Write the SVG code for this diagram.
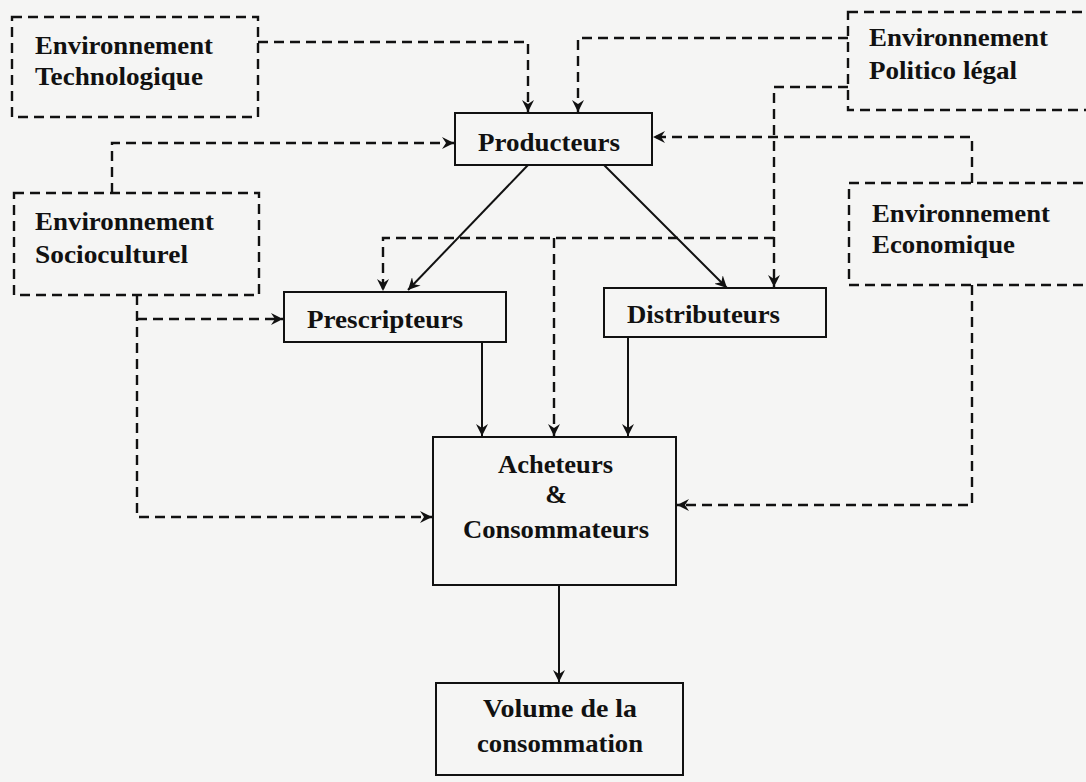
<svg xmlns="http://www.w3.org/2000/svg" width="1086" height="782" viewBox="0 0 1086 782">
<style>
.bg{fill:#f5f5f4}
.box{fill:none;stroke:#111;stroke-width:2}
.dbox{fill:none;stroke:#111;stroke-width:2.4;stroke-dasharray:10 6}
.dl{fill:none;stroke:#111;stroke-width:2.4;stroke-dasharray:10 6}
.sl{fill:none;stroke:#111;stroke-width:2}
.c{text-anchor:middle}
</style>
<defs>
<marker id="ah" viewBox="0 0 12 12" refX="12" refY="6" markerWidth="12" markerHeight="12" markerUnits="userSpaceOnUse" orient="auto">
<path d="M0,0 L12,6 L0,12 L4,6 z" fill="#111"/>
</marker>
</defs>
<rect class="bg" x="0" y="0" width="1086" height="782"/>

<g id="connectors">
<path class="dl" d="M258,42 H528 V112" marker-end="url(#ah)"/>
<path class="dl" d="M848,38 H578 V112" marker-end="url(#ah)"/>
<path class="dl" d="M848,87 H774 V287" marker-end="url(#ah)"/>
<path class="dl" d="M774,238 H383 V291" marker-end="url(#ah)"/>
<path class="dl" d="M554,238 V436" marker-end="url(#ah)"/>
<path class="dl" d="M112,193 V143 H454" marker-end="url(#ah)"/>
<path class="dl" d="M137,295 V517 H432" marker-end="url(#ah)"/>
<path class="dl" d="M137,319 H283" marker-end="url(#ah)"/>
<path class="dl" d="M972,183 V137 H653" marker-end="url(#ah)"/>
<path class="dl" d="M972,285 V505 H677" marker-end="url(#ah)"/>
<path class="sl" d="M528,165 L408,290" marker-end="url(#ah)"/>
<path class="sl" d="M604,165 L727,288" marker-end="url(#ah)"/>
<path class="sl" d="M482,342 V436" marker-end="url(#ah)"/>
<path class="sl" d="M628,337 V436" marker-end="url(#ah)"/>
<path class="sl" d="M559,585 V682" marker-end="url(#ah)"/>
</g>

<g font-family="Liberation Serif, Times New Roman, serif" font-weight="bold" font-size="26" fill="#111">
<g id="env-technologique">
<rect class="dbox" x="12" y="17" width="246" height="100"/>
<text x="35" y="54" textLength="178" lengthAdjust="spacingAndGlyphs">Environnement</text>
<text x="35" y="85" textLength="168" lengthAdjust="spacingAndGlyphs">Technologique</text>
</g>

<g id="env-politico-legal">
<rect class="dbox" x="848" y="12" width="250" height="98"/>
<text x="869" y="46" textLength="179" lengthAdjust="spacingAndGlyphs">Environnement</text>
<text x="869" y="79" textLength="148" lengthAdjust="spacingAndGlyphs">Politico légal</text>
</g>

<g id="env-socioculturel">
<rect class="dbox" x="14" y="193" width="245" height="102"/>
<text x="35" y="230" textLength="179" lengthAdjust="spacingAndGlyphs">Environnement</text>
<text x="35" y="263" textLength="153" lengthAdjust="spacingAndGlyphs">Socioculturel</text>
</g>

<g id="env-economique">
<rect class="dbox" x="849" y="183" width="250" height="102"/>
<text x="872" y="222" textLength="178" lengthAdjust="spacingAndGlyphs">Environnement</text>
<text x="872" y="253" textLength="143" lengthAdjust="spacingAndGlyphs">Economique</text>
</g>

<g id="producteurs">
<rect class="box" x="455" y="113" width="197" height="52"/>
<text x="478" y="151" textLength="142" lengthAdjust="spacingAndGlyphs">Producteurs</text>
</g>

<g id="prescripteurs">
<rect class="box" x="284" y="292" width="222" height="50"/>
<text x="307" y="328" textLength="156" lengthAdjust="spacingAndGlyphs">Prescripteurs</text>
</g>

<g id="distributeurs">
<rect class="box" x="604" y="288" width="222" height="49"/>
<text x="627" y="323" textLength="153" lengthAdjust="spacingAndGlyphs">Distributeurs</text>
</g>

<g id="acheteurs-consommateurs">
<rect class="box" x="433" y="437" width="243" height="148"/>
<text x="498" y="473" textLength="115" lengthAdjust="spacingAndGlyphs">Acheteurs</text>
<text class="c" x="556" y="503">&amp;</text>
<text x="463" y="538" textLength="186" lengthAdjust="spacingAndGlyphs">Consommateurs</text>
</g>

<g id="volume-consommation">
<rect class="box" x="436" y="683" width="247" height="92"/>
<text x="483" y="717" textLength="154" lengthAdjust="spacingAndGlyphs">Volume de la</text>
<text x="477" y="752" textLength="166" lengthAdjust="spacingAndGlyphs">consommation</text>
</g>
</g>
</svg>
